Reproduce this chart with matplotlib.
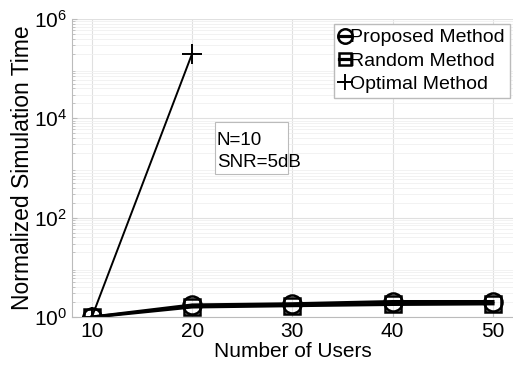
import matplotlib.pyplot as plt
from matplotlib.patches import Rectangle

users = [10, 20, 30, 40, 50]
tiempo_propuesto = [1.0, 1.75, 1.85, 2.05, 2.05]
tiempo_aleatorio = [1.0, 1.6, 1.7, 1.8, 1.85]
usuarios_optimo = [10, 20]
tiempo_optimo = [1.0, 2.0e5]

plt.rcParams['font.family'] = ['Liberation Sans', 'DejaVu Sans']

fig = plt.figure(figsize=(5.13, 3.7), dpi=100)
ax = fig.add_axes([0.140, 0.143, 0.86, 0.806])

ax.plot(users, tiempo_propuesto, color='black', lw=2.3, marker='o', ms=13,
        mfc='none', mew=1.8, label='Proposed Method')
ax.plot(users, tiempo_aleatorio, color='black', lw=2.3, marker='s', ms=11,
        mfc='none', mew=1.8, label='Random Method')
ax.plot(usuarios_optimo, tiempo_optimo, color='black', lw=1.4, marker='+', ms=15,
        mew=1.4, label='Optimal Method')

ax.set_yscale('log')
ax.set_xlim(8, 52)
ax.set_ylim(1, 1e6)
ax.set_xticks(users)
ax.set_yticks([1, 1e2, 1e4, 1e6])
ax.grid(True, which='major', color='#e0e0e0', lw=0.8)
ax.grid(True, which='minor', axis='y', color='#f0f0f0', lw=0.6)
ax.set_axisbelow(True)
for s in ['top', 'right']:
    ax.spines[s].set_visible(False)
for s in ['left', 'bottom']:
    ax.spines[s].set_color('#bbbbbb')
ax.tick_params(which='both', direction='in', color='#bbbbbb', labelsize=15)
ax.tick_params(which='minor', length=2)

ax.set_xlabel('Number of Users', fontsize=15, labelpad=1)
ax.set_ylabel('Normalized Simulation Time', fontsize=16.5, labelpad=0)

# caja de texto estilo matlab
ax.add_patch(Rectangle((0.324, 0.480), 0.166, 0.174, transform=ax.transAxes,
                       fc='white', ec='#bbbbbb', lw=0.8, zorder=3))
ax.text(0.329, 0.622, 'N=10\nSNR=5dB', transform=ax.transAxes, fontsize=13.5,
        linespacing=1.45, va='top', zorder=4)

leg = ax.legend(loc='upper right', bbox_to_anchor=(0.993, 0.983), fontsize=14,
                handlelength=0.6, handletextpad=0.0, borderpad=0.25, borderaxespad=0,
                labelspacing=0.3, fancybox=False, framealpha=1, edgecolor='#bbbbbb',
                markerscale=0.8)

fig.savefig('out.png', dpi=100)
